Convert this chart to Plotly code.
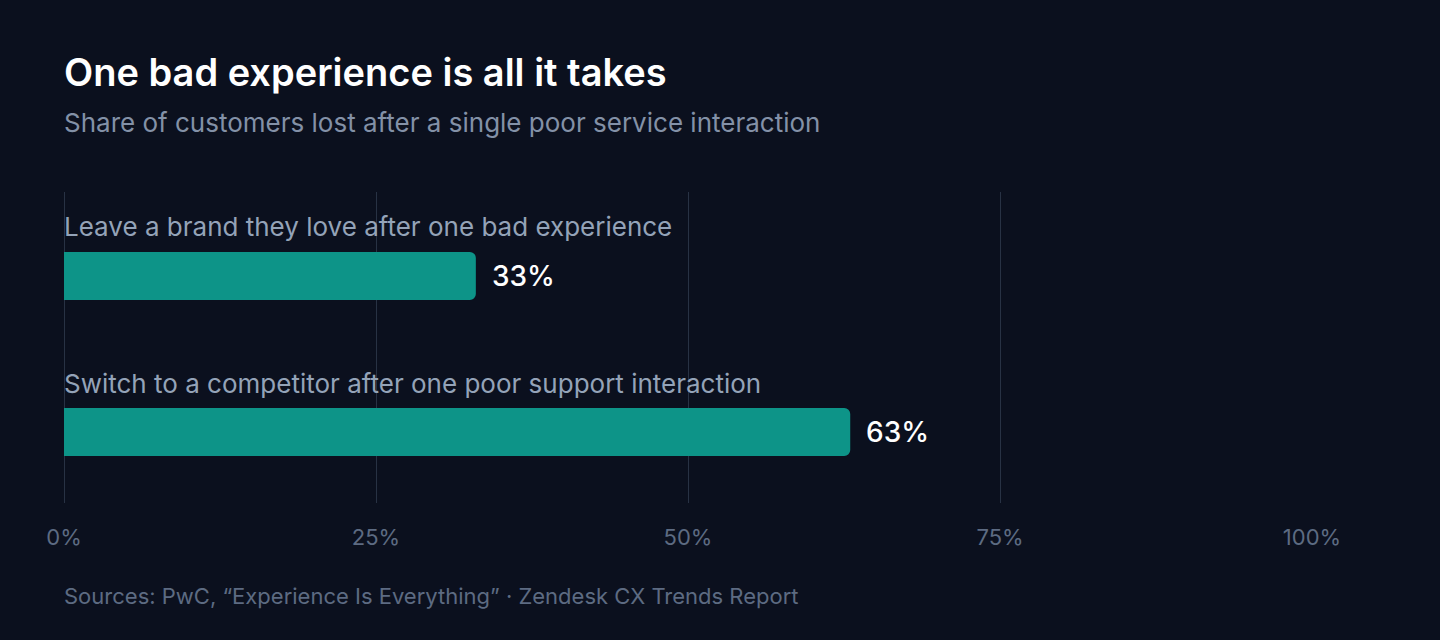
import plotly.graph_objects as go

categories = ["Leave a brand they love after one bad experience",
              "Switch to a competitor after one poor support interaction"]
values = [33, 63]
tick_vals = [0, 25, 50, 75, 100]
tick_text = ["0%", "25%", "50%", "75%", "100%"]

title = "One bad experience is all it takes"
subtitle = "Share of customers lost after a single poor service interaction"
source = "Sources: PwC, \u201cExperience Is Everything\u201d \u00b7 Zendesk CX Trends Report"

BG = "#0b101e"
TEAL = "#0d9488"
FONT = "Inter"

ypos = list(range(len(categories)))

fig = go.Figure()
fig.add_trace(go.Bar(
    x=values, y=ypos, orientation="h",
    marker=dict(color=TEAL, line=dict(width=0)),
    width=0.3077, hoverinfo="skip",
))

for i, (c, v) in enumerate(zip(categories, values)):
    fig.add_annotation(x=0, y=i - 0.314, xref="x", yref="y", text=c,
                       showarrow=False, xanchor="left", yanchor="middle", xshift=-2,
                       font=dict(family=FONT, size=26, color="#94a3b8"))
    fig.add_annotation(x=v, y=i, xref="x", yref="y", text=f"{v}%",
                       showarrow=False, xanchor="left", yanchor="middle", xshift=14,
                       font=dict(family=FONT, size=28, color="#ffffff", weight=500))

fig.add_annotation(x=0, y=1.386, xref="paper", yref="paper", text=title,
                   showarrow=False, xanchor="left", yanchor="middle", xshift=-2,
                   font=dict(family=FONT, size=38, color="#ffffff", weight=600))
fig.add_annotation(x=0, y=1.222, xref="paper", yref="paper", text=subtitle,
                   showarrow=False, xanchor="left", yanchor="middle", xshift=-2,
                   font=dict(family=FONT, size=26, color="#8391a7"))
fig.add_annotation(x=0, y=-0.299, xref="paper", yref="paper", text=source,
                   showarrow=False, xanchor="left", yanchor="middle", xshift=-2,
                   font=dict(family=FONT, size=22, color="#5d6b82"))

fig.update_layout(
    width=1440, height=640,
    margin=dict(l=64, r=128, t=192, b=137, pad=0),
    paper_bgcolor=BG, plot_bgcolor=BG,
    barcornerradius=6,
    showlegend=False,
    xaxis=dict(range=[0, 100], tickvals=tick_vals, ticktext=tick_text,
               showgrid=True, gridcolor="#283244", gridwidth=1,
               zeroline=True, zerolinecolor="#283244", zerolinewidth=1,
               showline=False, ticks="", ticklabelstandoff=19,
               tickfont=dict(family=FONT, size=22, color="#5d6b82"),
               fixedrange=True),
    yaxis=dict(range=[1.455, -0.538], showgrid=False, zeroline=False,
               showticklabels=False, showline=False, fixedrange=True),
)

fig.write_html("out.html")
